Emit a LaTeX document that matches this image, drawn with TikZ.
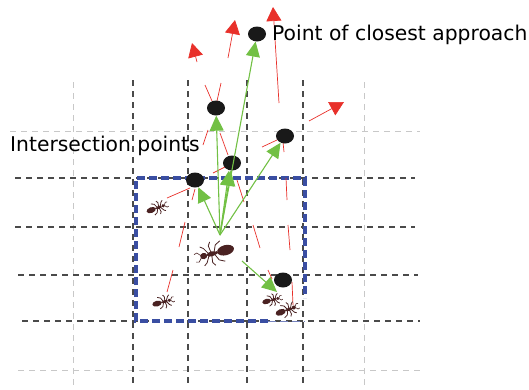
\documentclass[tikz,border=0pt]{standalone}
\usepackage{fontspec}
\setmainfont{DejaVu Sans}
\usepackage{tikz}
\usetikzlibrary{arrows.meta, shapes.geometric}
\tikzset{>=stealth}
\usepackage{xcolor}
\definecolor{gridgray}{HTML}{4A4A4A}
\definecolor{faintgray}{HTML}{C8C8C8}
\definecolor{zoneblue}{HTML}{3A4EA2}
\definecolor{headred}{HTML}{E8302A}
\definecolor{movegreen}{HTML}{72C044}
\definecolor{antbrown}{HTML}{4A2222}

\tikzset{
  gridline/.style={line width=1.4pt, gridgray, dash pattern=on 6pt off 5pt},
  faintline/.style={line width=1pt, faintgray, dash pattern=on 6pt off 5pt},
  zone/.style={line width=3.8pt, zoneblue, dash pattern=on 8pt off 4pt},
  isect/.style={ellipse, fill=black!90, inner sep=0pt, minimum width=18pt, minimum height=15pt},
  heading/.style={headred, line width=0.7pt},
  headtip/.style={heading, -{Triangle[length=14pt,width=15pt]}},
  move/.style={movegreen, line width=1.1pt, -{Triangle[length=15pt,width=14pt]}},
  label/.style={anchor=base west, inner sep=0pt, font=\fontsize{20.3}{24}\selectfont},
  ant/.pic={
    \fill[antbrown] (-2.8,0) ellipse (2.2 and 1.3);
    \fill[antbrown] (-0.4,0) circle (0.45);
    \fill[antbrown] (0.9,0) ellipse (1.3 and 0.65);
    \fill[antbrown] (3,0) ellipse (0.9 and 0.8);
    \foreach \s in {1,-1}{
      \draw[antbrown, line width=0.6pt] (3.7,0.3*\s) -- (4.5,1.2*\s) -- (5.3,1*\s);
      \draw[antbrown, line width=0.8pt] (0.3,0) -- (-0.6,2*\s) -- (-2,2.7*\s);
      \draw[antbrown, line width=0.8pt] (0.9,0) -- (1.2,2.2*\s) -- (0.6,3.1*\s);
      \draw[antbrown, line width=0.8pt] (1.5,0) -- (2.6,1.9*\s) -- (3.4,2.5*\s);
    }
  }
}

\begin{document}
\begin{tikzpicture}[x=1pt, y=-1pt]
  \useasboundingbox (0,0) rectangle (529,389);

  % grid
  \foreach \x in {73,364} \draw[faintline] (\x,82) -- (\x,389);
  \draw[faintline] (10,131) -- (420,131);
  \draw[faintline] (18,370) -- (420,370);
  \foreach \x in {133,188,247,303} \draw[gridline] (\x,80) -- (\x,385);
  \foreach \y/\a/\b in {178/15/415, 227/15/415, 275/18/418, 321/22/420}
    \draw[gridline] (\a,\y) -- (\b,\y);

  % sensing zone
  \draw[zone] (268,321) -- (136,321) -- (136,178) -- (305,178) -- (305,298);
  \draw[zoneblue!70, line width=1pt, dash pattern=on 8pt off 4pt] (268,321) -- (305,321);

  % headings
  \draw[headtip] (197,62) -- (192,43);
  \draw[headtip] (228,58) -- (235,20);
  \draw[headtip] (279,103) -- (273,7);
  \draw[headtip] (309,121) -- (344,102);
  \draw[heading] (205,85) -- (212,101);
  \draw[heading] (221,83) -- (217,101);
  \draw[heading] (208,130) -- (203,145);
  \draw[heading] (220,133) -- (228,155);
  \draw[heading] (262,147) -- (277,140);
  \draw[heading] (283,142) -- (284,152);
  \draw[heading] (213,173) -- (225,167);
  \draw[heading] (167,198) -- (190,188);
  \draw[heading] (195,189) -- (192,200);
  \draw[heading] (237,180) -- (244,202);
  \draw[heading] (286,178) -- (287,200);
  \draw[heading] (185,222) -- (179,247);
  \draw[heading] (253,225) -- (260,248);
  \draw[heading] (288,225) -- (290,250);
  \draw[heading] (173,270) -- (167,292);
  \draw[heading] (268,270) -- (272,279);
  \draw[heading] (292,282) -- (293,305);

  % ants
  \pic[scale=3.9, rotate=195] at (215,253) {ant};
  \pic[scale=2.2, rotate=20] at (157,208) {ant};
  \pic[scale=2.2, rotate=15] at (163,302) {ant};
  \pic[scale=2, rotate=15] at (272,300) {ant};
  \pic[scale=2.4, rotate=20] at (287,310) {ant};

  % intersection points
  \node[isect] (pca) at (257,34) {};
  \node[isect] (i1) at (216,108) {};
  \node[isect] (i2) at (285,136) {};
  \node[isect] (i3) at (232,163) {};
  \node[isect] (i4) at (195,180) {};
  \node[isect] (i5) at (283,280) {};

  % moves
  \coordinate (start) at (220,235);
  \coordinate (leave) at (242,261);
  \coordinate (reach) at (277,292);
  \draw[move] (start) -- (pca);
  \draw[move] (start) -- (i1);
  \draw[move] (start) -- (i2);
  \draw[move] (start) -- (i3);
  \draw[move] (start) -- ([xshift=-3pt]i3.south);
  \draw[move] (start) -- (i4);
  \draw[move] (leave) -- (reach);

  \node[label] (pcatext) at (272,40) {Point of closest approach};
  \node[label] (isecttext) at (10,151) {Intersection points};
\end{tikzpicture}
\end{document}
